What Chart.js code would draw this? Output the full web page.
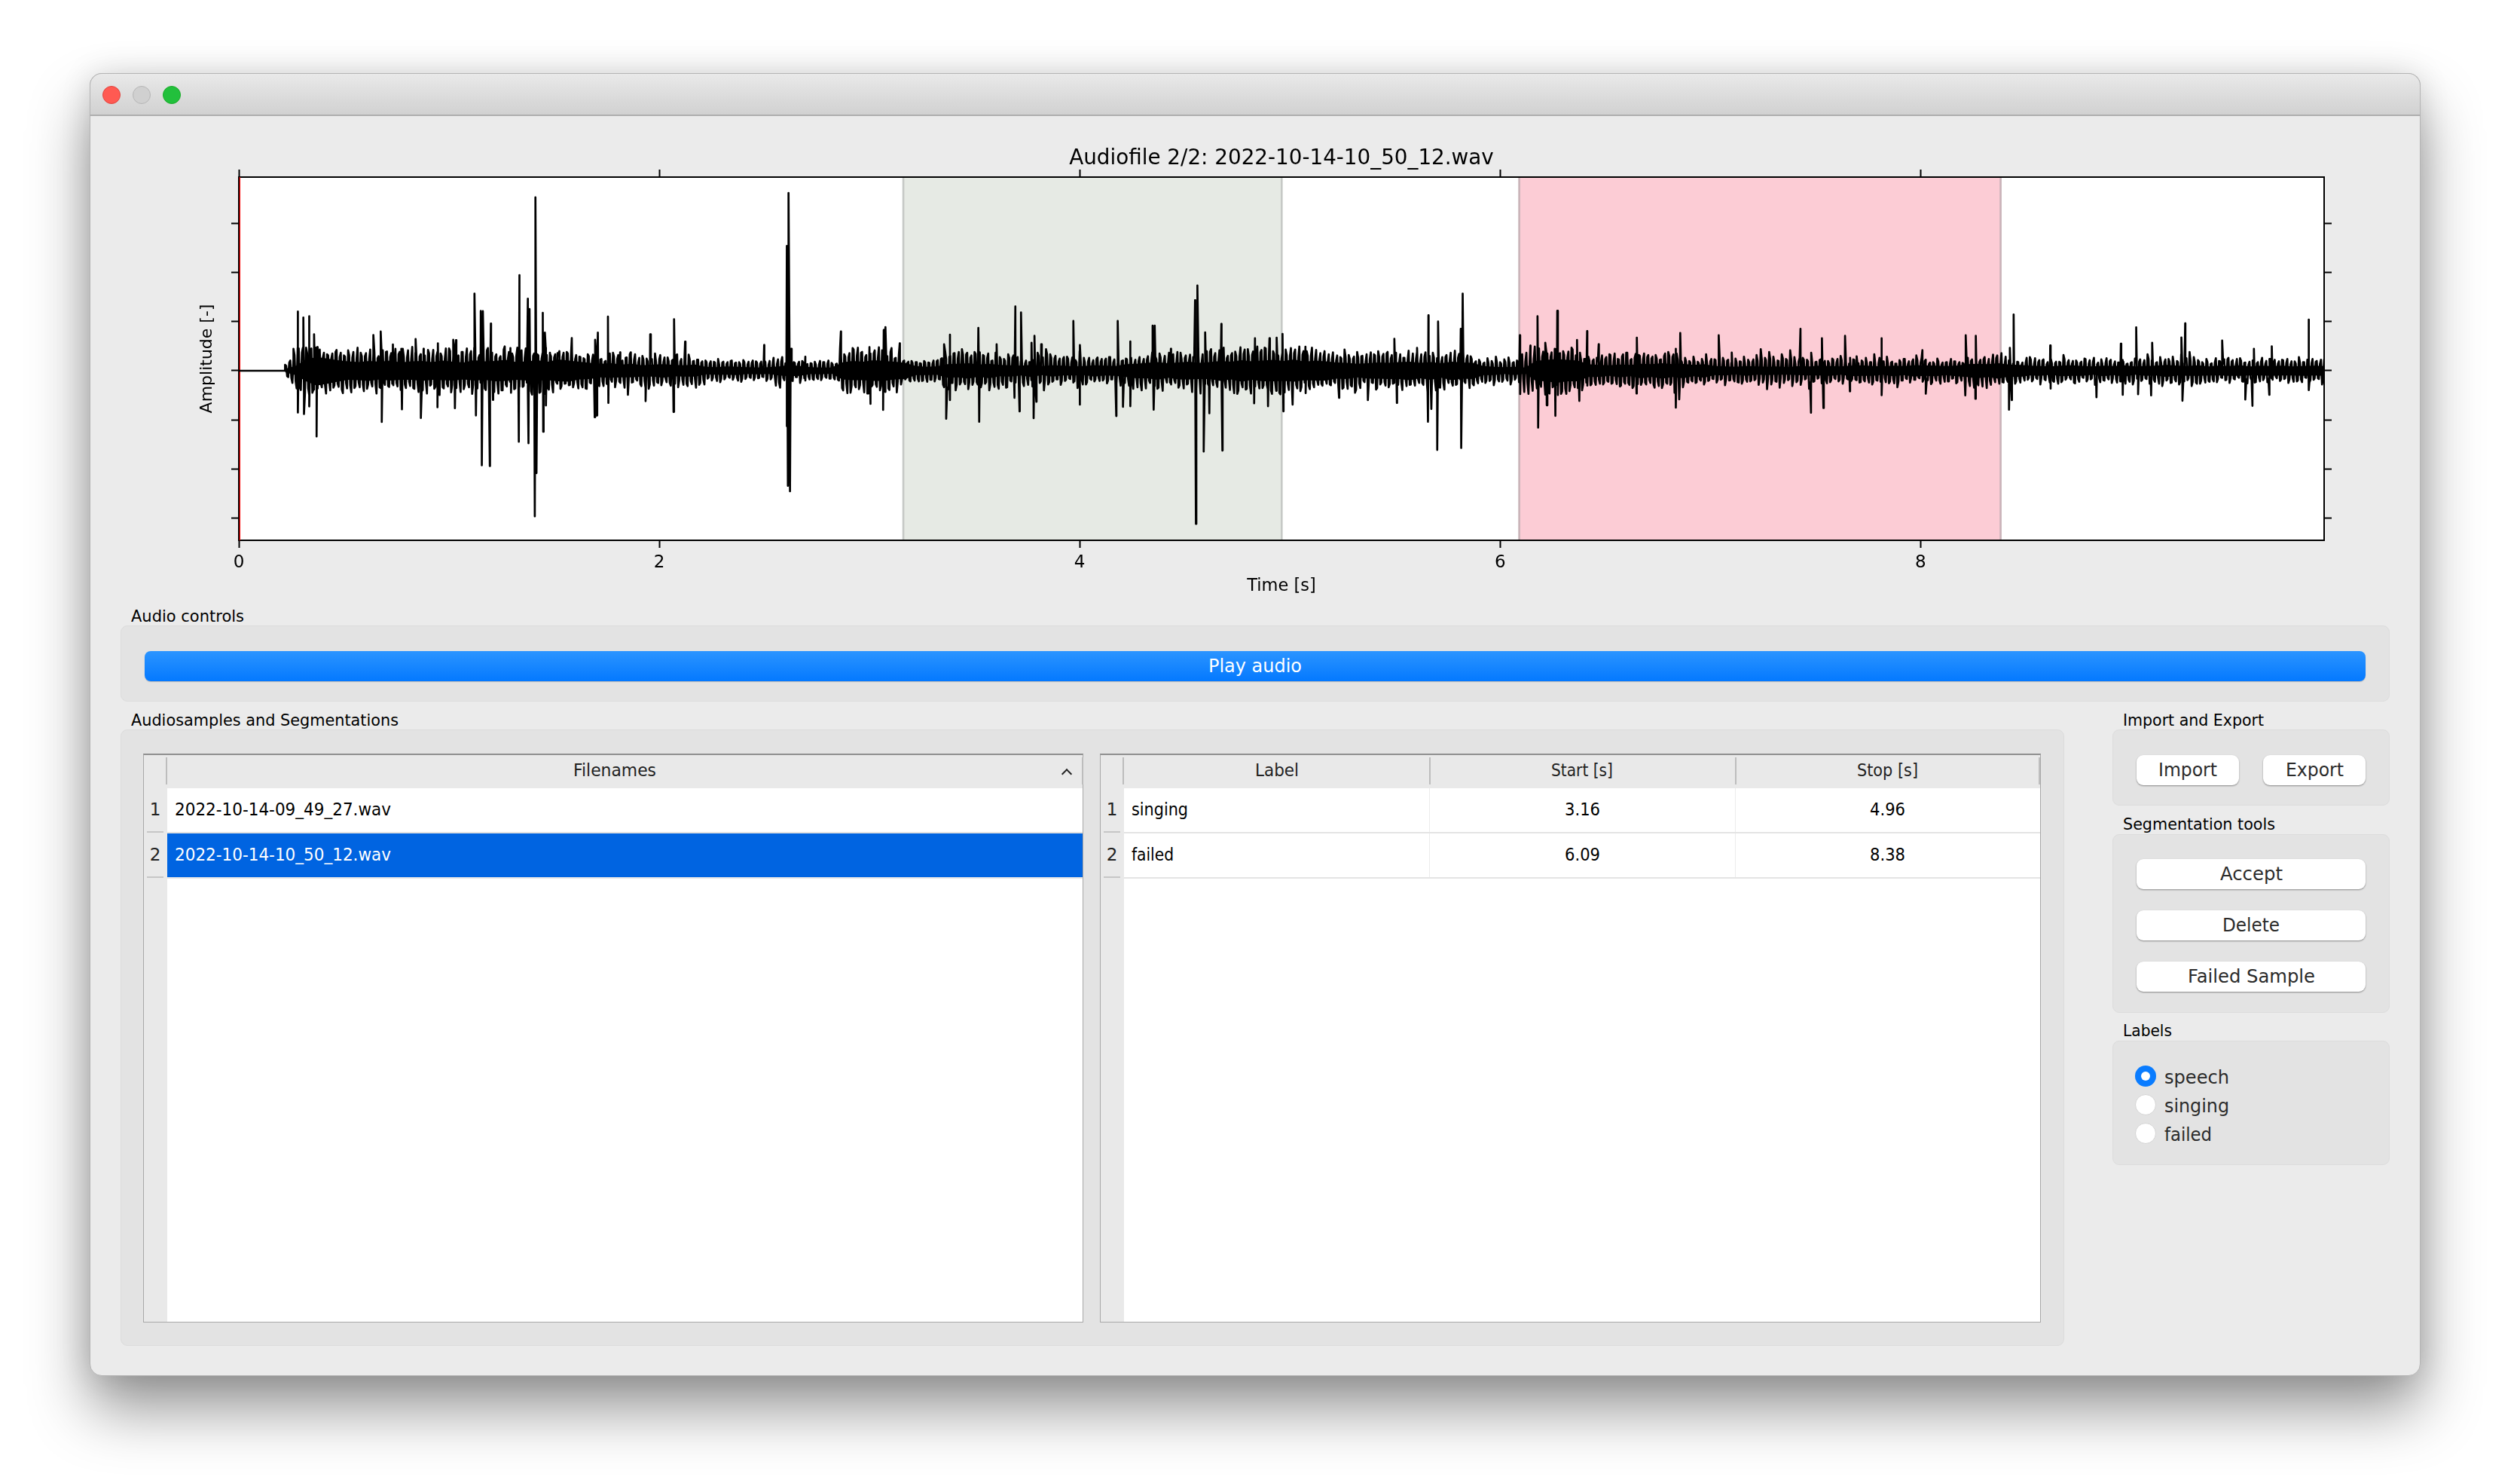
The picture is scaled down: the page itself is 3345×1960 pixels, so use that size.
<!DOCTYPE html>
<html><head><meta charset="utf-8">
<script src="https://cdn.jsdelivr.net/npm/chart.js@4"></script>
<style>
html,body{margin:0;padding:0;background:#fff;width:3345px;height:1960px;overflow:hidden;font-family:"DejaVu Sans",sans-serif}
.b{position:absolute;box-sizing:border-box}
.t{position:absolute;white-space:pre;line-height:1;color:#000;transform-origin:0 50%}
#win{left:119px;top:97px;width:3094px;height:1729px;background:#ebebeb;border-radius:16px;border:1px solid #b4b4b4;box-shadow:0 44px 80px rgba(0,0,0,.42),0 0 40px rgba(0,0,0,.12)}
#bar{left:119px;top:97px;width:3094px;height:57px;border-radius:16px 16px 0 0;background:linear-gradient(#e9e9e9,#d1d1d1);border:1px solid #b4b4b4;border-bottom:2px solid #aeaeae}
.panel{background:#e3e3e3;border:1px solid #dcdcdc;border-radius:9px}
.btn{background:#fff;border-radius:9px;box-shadow:0 1px 2px rgba(0,0,0,.4)}
.tbl{background:#e9e9e9;border:1px solid #a8a8a8;border-top:2px solid #8f8f8f}
canvas{position:absolute;left:200px;top:180px}
</style></head><body>
<div class="b" id="win"></div><div class="b" id="bar"></div>
<canvas id="c" width="3002" height="612" style="width:3002px;height:612px"></canvas>
<script>
// ---- chart values ----
const chartTitle = "Audiofile 2/2: 2022-10-14-10_50_12.wav";
const xAxisTitle = "Time [s]";
const yAxisTitle = "Amplitude [-]";
const xTickStep = 2, xMaxSeconds = 9.92;
const yTickStep = 250, yMin = -865, yMax = 988;
const cursorTime = [0.005];
const leadTimes = [0, 0.22];
const leadValues = [0, 0];
const bandStart = 0.22, bandStep = 0.05;
const bandUp = [
10,24,58,70,62,54,48,44,50,46,52,42,48,50,44,52,46,42,54,48,
50,56,44,48,54,46,58,52,46,40,36,38,32,36,28,32,34,30,28,32,
20,18,22,20,18,16,18,22,30,24,18,16,16,42,50,46,54,50,46,40,
24,20,22,34,36,38,32,36,30,28,26,30,24,28,26,22,24,28,26,24,
34,36,40,44,38,42,46,40,44,50,46,54,48,52,56,50,58,46,52,48,
42,40,36,38,42,40,44,46,40,44,38,46,42,40,24,20,18,20,16,50,
56,60,56,52,34,30,28,32,30,36,34,38,34,36,30,34,24,22,20,24,
22,20,22,18,24,22,26,24,22,26,28,24,22,26,24,28,28,26,24,26,
34,36,34,38,32,30,26,24,22,26,28,24,22,26,24,28,22,24,26,30,
26,24,28,22,26,24,28,22,26,24,26,22,24,26,24
];
const bandDown = [
8,22,54,76,66,56,46,48,52,44,50,46,46,52,46,48,50,44,50,46,
54,52,46,50,50,48,54,56,44,42,34,36,34,34,30,30,36,28,30,30,
18,20,20,22,16,18,16,24,28,26,16,18,14,44,48,48,52,52,44,42,
22,22,20,36,34,40,30,38,28,30,24,32,22,30,24,24,22,30,24,26,
32,38,38,46,36,44,44,42,42,52,44,56,46,54,54,52,56,48,50,50,
40,42,34,40,40,42,42,48,38,46,36,48,40,42,22,22,16,22,14,52,
54,62,54,54,32,32,26,34,28,38,32,40,32,38,28,36,22,24,18,26,
20,22,20,20,22,24,24,26,20,28,26,26,20,28,22,30,26,28,22,28,
32,38,32,40,30,32,24,26,20,28,26,26,20,28,22,30,20,26,24,32,
24,26,26,24,24,26,26,24,24,26,24,24,26,24,26
];
const coreStart = 0.22, coreStep = 0.02;
const coreUp = [
30,42,58,116,92,118,104,92,74,68,84,62,96,70,78,104,66,60,92,74,58,88,64,72,96,
70,56,84,112,66,58,92,72,66,106,60,74,88,62,114,78,58,96,70,84,118,66,72,104,90,
72,64,108,60,88,74,96,66,112,76,84,60,118,92,68,86,70,96,76,58,72,64,84,50,62,
58,46,72,92,60,48,66,84,54,42,76,62,50,88,58,44,68,52,78,46,60,82,48,56,40,
52,36,46,60,42,34,50,38,44,54,32,40,48,36,52,30,42,34,46,38,64,44,34,50,30,
38,46,32,44,36,40,34,112,84,68,116,76,92,70,118,88,64,104,72,96,62,84,48,40,50,
44,38,50,42,36,48,60,100,72,88,62,110,84,66,96,58,80,64,50,92,70,60,84,66,58,
48,36,44,54,92,70,110,84,62,46,58,72,40,54,100,66,48,38,60,44,52,70,42,36,50,
62,40,34,48,38,56,44,72,88,46,36,60,44,92,64,50,70,44,38,58,96,72,48,40,64,
78,98,70,86,110,80,62,94,118,72,100,84,60,108,74,90,66,82,100,76,60,54,72,46,58,
52,70,108,80,60,96,74,46,58,84,100,72,88,62,50,44,66,54,38,60,46,72,58,92,64,
44,70,52,38,66,48,60,74,42,56,36,64,50,72,44,58,68,40,52,62,46,38,60,48,70,
96,70,112,84,100,66,118,78,92,60,72,50,66,44,58,84,48,60,72,92,54,66,80,58,70,
62,80,56,74,96,70,88,54,66,50,72,46,60,84,48,58,44,66,52,40,62,48,72,56,44,
80,110,66,96,72,52,84,60,104,70,48,66,56,92,44,54,38,50,62,42,76,46,36,58,40,
52,66,44,84,38,48,72,42,36,54,60,34,46,78,40,50,34,44,62,30,42,36,48,32,40,
36,50,30,44,58,34,42,64,38,30,52,36,46,28,40,70,34,44,52,32,60,38,46,80,42,
34,52,40,62,36,44,32,58,38,48,30,42,54,34,40,62,46,36,84,52,40,70,44,60,72,
50,84,62,96,70,54,44,60,34,42,50,36,58,46,32,64,40,30,52,38,46,34,60,42,36,
56,40,32,48,70,44,56,38,46,34,60,40,52,78,50,36,62,44,34,56
];
const coreDown = [
28,36,52,84,108,90,112,76,64,72,58,86,66,96,62,74,88,58,70,92,60,68,84,56,78,
66,62,98,70,54,88,62,106,60,76,92,58,84,66,110,72,56,94,66,118,74,60,90,108,70,
64,100,70,56,94,66,82,60,104,72,112,64,88,70,58,92,66,74,84,56,68,90,60,50,70,
54,66,44,84,56,46,78,60,42,68,52,92,48,58,74,40,62,50,84,44,66,52,42,72,46,
40,50,34,58,44,30,46,36,56,42,32,48,38,30,52,44,34,60,36,42,50,32,62,38,30,
42,34,48,30,40,36,46,88,66,112,72,94,60,116,80,68,100,74,90,62,110,70,44,50,38,
40,52,36,46,54,42,70,88,62,100,70,56,94,72,58,84,66,100,60,72,54,86,50,66,46,
60,40,48,88,62,100,70,56,44,72,52,38,60,88,46,70,40,54,36,50,64,44,58,34,48,
40,56,36,64,42,50,66,92,54,40,60,46,86,50,70,42,58,38,84,66,48,60,36,52,44,
70,118,64,96,76,108,60,88,72,100,58,112,80,66,94,72,104,60,76,64,50,66,44,70,54,
66,92,58,74,112,64,50,78,60,96,70,56,84,66,44,58,40,72,50,44,62,38,66,52,84,
62,42,58,72,44,54,36,66,48,40,62,52,74,44,56,38,70,46,58,42,64,50,36,54,44,
110,84,72,118,90,104,66,88,100,60,74,54,44,70,52,66,46,80,58,62,88,50,72,60,46,
70,54,88,60,72,112,66,84,56,48,62,44,70,52,40,60,46,74,50,42,58,66,44,54,48,
72,60,94,70,54,86,62,48,78,58,72,44,92,56,40,64,48,58,36,54,66,40,52,44,60,
46,38,70,48,56,36,64,42,84,50,38,60,46,34,56,42,68,36,48,30,54,40,64,34,44,
52,36,62,42,30,50,38,32,58,44,36,66,40,30,46,54,36,70,44,30,52,40,58,46,34,
60,42,32,54,44,72,38,48,36,62,42,54,34,46,70,40,52,38,66,46,36,78,50,62,44,
70,56,48,78,60,66,36,52,44,58,34,48,62,40,30,54,44,36,60,34,48,58,38,30,52,
42,62,36,54,44,34,60,46,38,70,42,32,66,50,36,46,34,58,40,48
];
const fineStart = 0.225, fineStep = 0.01;
const fineAmps = [
26,32,52,62,80,90,114,98,118,108,90,124,114,96,118,90,108,84,92,116,78,100,88,74,106,82,92,114,72,90,80,110,96,78,118,84,74,104,90,70,108,80,96,116,74,88,104,72,98,82,
90,74,112,80,96,118,72,88,104,78,122,92,74,108,84,98,78,116,90,70,106,82,96,124,74,90,114,80,100,72,118,88,78,108,96,74,114,84,100,70,122,90,80,112,74,98,116,82,92,108,
84,116,74,100,124,80,96,112,70,90,118,82,104,78,114,92,72,122,88,98,78,108,90,118,80,96,74,110,84,66,100,78,92,64,88,72,96,62,80,90,70,84,58,92,74,64,82,98,66,78,
60,78,50,70,88,56,72,48,80,62,52,86,68,44,76,58,84,50,66,78,56,88,48,70,60,76,44,62,80,52,68,58,48,76,56,66,84,50,60,72,44,78,58,68,50,86,56,62,48,70,
44,34,48,36,42,52,32,40,46,34,44,36,52,32,42,50,34,40,44,32,46,36,52,34,42,36,46,32,44,40,50,34,42,76,58,86,70,48,36,44,34,52,40,32,46,36,42,50,34,44,
36,46,32,42,50,34,44,36,52,40,32,44,36,50,80,100,72,114,90,78,108,84,118,74,96,110,80,116,88,72,104,82,120,78,92,108,74,98,116,80,66,50,56,42,52,36,46,54,40,50,
44,54,36,50,42,56,40,46,52,36,54,44,64,84,60,94,76,62,90,70,96,58,82,68,92,60,78,54,86,70,94,62,76,58,88,68,52,82,62,92,58,72,50,84,66,54,78,60,70,52,
62,78,52,72,44,80,60,50,76,54,68,46,84,58,66,50,76,44,62,52,70,46,60,42,68,54,44,62,50,70,42,58,66,46,54,44,68,52,60,42,62,50,70,44,58,66,46,76,52,62,
58,76,66,92,56,84,70,100,60,90,74,62,94,78,58,86,68,102,76,60,92,70,84,62,96,74,58,90,78,66,82,108,70,92,76,116,84,68,100,78,110,74,90,82,104,70,118,86,76,98,
90,114,76,100,120,84,108,92,72,116,98,80,124,90,106,74,114,94,82,118,86,102,76,120,92,110,80,98,116,74,108,90,124,82,100,114,76,94,118,84,106,72,90,76,100,66,84,74,94,62,
78,94,62,86,70,92,60,80,72,96,66,88,76,58,84,68,94,62,78,88,70,60,86,76,96,68,80,62,92,72,84,98,66,78,102,70,88,76,96,62,84,72,94,108,76,88,68,100,78,86,
70,96,80,62,92,76,102,68,86,72,94,62,78,88,60,74,48,64,44,56,42,50,38,46,36,48,42,54,36,46,44,50,40,48,44,36,46,54,84,108,92,118,80,102,124,90,114,82,98,122,
88,116,94,76,110,124,90,106,80,118,98,74,108,84,62,78,56,70,60,76,52,68,58,72,50,66,78,60,70,56,80,62,88,68,58,76,84,66,92,72,60,78,86,68,76,58,88,70,80,62,
72,86,62,78,58,70,88,66,76,60,84,68,56,72,44,56,48,60,42,54,46,58,38,50,44,56,36,48,60,42,54,46,58,40,50,44,56,48,36,54,42,60,46,50,38,56,44,48,58,42,
50,38,58,44,54,36,60,46,42,56,50,36,64,44,54,42,58,46,36,50,66,44,56,40,48,60,42,54,46,36,58,44,50,64,38,48,56,42,60,46,54,36,50,44,66,42,56,48,38,58,
46,54,38,60,44,56,36,50,66,42,48,58,38,54,46,64,36,56,44,50,60,42,48,36,58,46,54,38,64,44,56,48,42,60,36,50,46,66,42,56,44,54,60,38,48,58,44,50,36,56,
66,78,58,86,64,74,56,80,70,88,60,72,82,58,78,66,90,60,72,56,46,58,38,54,44,60,42,50,66,36,56,46,64,42,54,36,58,48,44,60,38,56,46,66,42,50,58,36,54,44,
50,64,42,56,46,36,60,44,54,38,66,48,42,58,36,50,64,44,56,38,48,60,42,54,46,66,36,56,44,50,64,38,58,46,54,42,60,36,48,56,44,66,38,50,58,42,46,60,36,54,
44,58,38,54,64,36,48,56,42,66,46,50,36,60,44,56,38,54,64,42,48,36,58,46,66,38,54,44,60,36,50,56,42,64,46,48,38,58,44,54,66,36,50,42,60,46,56,38,48,44,
54,38,60,44,48,56,36,50,42,58,44,36,54,46,60,38,50,42,56,44
];
const spikeUpTimes = [.26,.28,.307,.335,.358,.373,.64,.675,.733,.773,.841,.879,.947,1.02,1.033,1.121,1.151,1.161,1.199,1.292,1.335,1.375,1.383,1.411,1.446,1.456,1.481,1.516,1.584,1.695,1.708,1.756,1.814,1.864,1.957,2.071,2.123,2.499,2.544,2.607,2.615,2.627,2.695,2.864,3.0,3.068,3.076,3.144,
3.355,3.383,3.518,3.605,3.694,3.721,3.771,3.785,3.817,3.97,4.002,4.181,4.24,4.347,4.357,4.434,4.549,4.56,4.597,4.674,4.834,4.903,4.937,4.965,5.074,5.497,5.605,5.659,5.705,5.813,5.822,6.094,6.144,6.178,6.215,6.272,6.366,6.414,6.469,6.651,
6.836,6.857,7.04,7.102,7.429,7.531,7.641,7.696,7.815,8.009,8.215,8.263,8.425,8.443,8.617,8.953,9.026,9.102,9.241,9.259,9.435,9.586,9.671,9.847];
const spikeUpAmps = [112,302,272,278,186,121,182,200,134,112,162,112,140,158,156,394,305,304,241,116,488,368,315,885,296,195,85,90,167,158,195,276,94,94,186,263,149,131,66,637,907,112,72,200,121,208,223,140,
135,184,219,135,328,298,143,178,135,254,131,254,150,230,230,112,360,435,196,239,166,166,169,188,123,163,117,283,251,214,394,181,128,278,143,306,157,202,135,169,
112,193,181,93,214,166,178,74,166,105,181,178,117,287,129,138,222,143,170,242,154,112,125,261];
const spikeDownTimes = [.282,.31,.335,.37,.68,.776,.866,.945,1.028,1.128,1.156,1.194,1.209,1.332,1.378,1.408,1.416,1.448,1.461,1.693,1.703,1.758,1.851,1.935,2.068,2.607,2.612,2.622,3.005,3.065,
3.365,3.383,3.522,3.69,3.714,3.781,3.794,4.0,4.174,4.206,4.242,4.352,4.553,4.59,4.617,4.679,4.83,4.896,4.969,5.013,5.234,5.371,5.509,5.657,5.673,5.701,5.815,6.096,6.181,6.222,6.263,6.377,6.649,
6.836,6.852,7.479,7.538,7.664,7.815,8.025,8.213,8.261,8.421,8.434,8.619,8.837,8.962,9.035,9.097,9.246,9.545,9.579,9.659,9.847];
const spikeDownAmps = [213,221,182,335,261,197,241,186,191,228,482,486,149,362,370,743,522,311,177,237,228,164,123,155,210,283,587,615,169,200,
245,150,260,138,207,242,158,173,231,184,181,199,781,412,217,407,166,181,207,173,138,150,164,260,195,404,394,119,290,176,230,154,116,
188,146,214,190,105,125,117,126,143,199,150,91,135,123,120,126,153,147,179,123,99];
const segmentLabels = ["singing","failed"];
const segmentStarts = [3.16,6.09];
const segmentStops = [4.96,8.38];
const filenames = ["2022-10-14-09_49_27.wav","2022-10-14-10_50_12.wav"];
const tableHeaders = ["Label","Start [s]","Stop [s]"];
const labelChoices = ["speech","singing","failed"];

// ---- assemble the trace from the arrays ----
const trace = [];
leadTimes.forEach((t,i)=>trace.push({x:t,y:leadValues[i]}));
coreUp.forEach((v,i)=>{
  trace.push({x:coreStart+i*coreStep,y:v});
  trace.push({x:coreStart+(i+.5)*coreStep,y:-coreDown[i]});
});
fineAmps.forEach((v,i)=>trace.push({x:fineStart+i*fineStep,y:i%2?-v:v}));
spikeUpTimes.forEach((t,i)=>trace.push({x:t,y:spikeUpAmps[i]}));
spikeDownTimes.forEach((t,i)=>trace.push({x:t,y:-spikeDownAmps[i]}));
trace.sort((a,b)=>a.x-b.x);
const bandUpper = bandUp.map((v,i)=>({x:bandStart+i*bandStep,y:v}));
const bandLower = bandDown.map((v,i)=>({x:bandStart+i*bandStep,y:-v}));

const SANS='"DejaVu Sans"';
const spanStyles=[{fill:'#e6eae4',edge:'#c6c9c6'},{fill:'#fcccd5',edge:'#c9b3b8'}];
const spans={id:'spans',
 beforeDraw(ch){const a=ch.chartArea,c=ch.ctx;c.save();c.fillStyle='#fff';c.fillRect(a.left,a.top,a.width,a.height);c.restore();},
 beforeDatasetsDraw(ch){const a=ch.chartArea,c=ch.ctx,x=ch.scales.x;c.save();
  segmentStarts.forEach((s,i)=>{const l=x.getPixelForValue(s),r=x.getPixelForValue(segmentStops[i]);
   c.fillStyle=spanStyles[i].fill;c.fillRect(l,a.top+1,r-l,a.height-2);
   c.fillStyle=spanStyles[i].edge;c.fillRect(l-1,a.top+1,2.6,a.height-2);c.fillRect(r-1,a.top+1,2.6,a.height-2);});
  c.restore();}};
const frameGrid={drawOnChartArea:false,drawTicks:true,tickLength:10,tickColor:'#000',tickWidth:2};
const frameBorder={display:true,color:'#000',width:2};
new Chart(document.getElementById('c'),{
 type:'line',
 data:{datasets:[
  {label:'waveform',data:trace,borderColor:'#000',borderWidth:2.7,pointRadius:0,tension:0,borderJoinStyle:'round',fill:false},
  {label:'core upper',data:bandUpper,borderWidth:0,borderColor:'#000',backgroundColor:'#000',pointRadius:0,tension:0,fill:'+1'},
  {label:'core lower',data:bandLower,borderWidth:0,borderColor:'#000',pointRadius:0,tension:0,fill:false},
  {label:'cursor',data:cursorTime.flatMap(t=>[{x:t,y:yMin},{x:t,y:yMax}]),borderColor:'#ff0000',borderWidth:1.2,pointRadius:0,fill:false}
 ]},
 plugins:[spans],
 options:{responsive:false,animation:false,devicePixelRatio:1,
  layout:{padding:0},
  plugins:{legend:{display:false},tooltip:{enabled:false},
   title:{display:true,text:chartTitle,color:'#000',font:{family:SANS,size:27.8,weight:'normal',lineHeight:1},padding:{top:16.8,bottom:0.4}}},
  scales:{
   x:{type:'linear',position:'bottom',min:0,max:xMaxSeconds,
    ticks:{stepSize:xTickStep,includeBounds:false,autoSkip:false,maxRotation:0,color:'#000',font:{family:SANS,size:23},padding:6},
    grid:frameGrid,border:frameBorder,
    title:{display:true,text:xAxisTitle,color:'#000',font:{family:SANS,size:22.5},padding:{top:0,bottom:0}},
    afterFit(s){s.height=75;}},
   x2:{type:'linear',position:'top',axis:'x',min:0,max:xMaxSeconds,
    ticks:{display:false,stepSize:xTickStep,includeBounds:false,autoSkip:false},grid:frameGrid,border:frameBorder,
    afterFit(s){s.height=10;}},
   y:{type:'linear',position:'left',min:yMin,max:yMax,
    ticks:{display:false,stepSize:yTickStep,includeBounds:false,autoSkip:false},grid:frameGrid,border:frameBorder,
    title:{display:true,text:yAxisTitle,color:'#000',font:{family:SANS,size:22},padding:{top:62,bottom:0}},
    afterFit(s){s.width=117;}},
   y2:{type:'linear',position:'right',axis:'y',min:yMin,max:yMax,
    ticks:{display:false,stepSize:yTickStep,includeBounds:false,autoSkip:false},grid:frameGrid,border:frameBorder,
    afterFit(s){s.width=117;}}
  }}
});

// ---- window furniture (real text, plain boxes) ----
function box(x,y,r,b,cls,css){const d=document.createElement('div');d.className='b '+(cls||'');
 d.style.cssText=`left:${x}px;top:${y}px;width:${r-x}px;height:${b-y}px;`+(css||'');document.body.appendChild(d);return d;}
function text(s,o){const d=document.createElement('div');d.className='t';d.textContent=s;
 d.style.fontSize=o.size+'px';if(o.color)d.style.color=o.color;document.body.appendChild(d);
 const w=d.getBoundingClientRect().width,h=d.getBoundingClientRect().height;
 const k=o.width?o.width/w:1;const tw=o.width||w;
 const x=o.cx!==undefined?o.cx-tw/2:o.x;
 d.style.left=x+'px';d.style.top=(o.cy-h/2)+'px';d.style.transform=`scaleX(${k})`;return d;}
[[148,'#ff5a52','#e0443e'],[188,'#d0d0d0','#b6b6b6'],[228,'#22c03c','#1aab29']].forEach(([x,f,e])=>{
 box(x-12,114,x+12,138,'',`border-radius:50%;background:${f};border:1px solid ${e}`);});

text('Audio controls',{x:174,cy:818.5,size:21,width:150});
box(160,830,3172,931,'panel');
box(192,864,3140,904,'',"border-radius:8px;background:linear-gradient(#2b94ff,#0479ff);box-shadow:0 1px 1px rgba(0,0,0,.2)");
text('Play audio',{cx:1666,cy:883,size:25,width:124,color:'#fff'});
text('Audiosamples and Segmentations',{x:174,cy:956.5,size:21,width:355});
box(160,968,2740,1786,'panel');

// left table
box(190,1000,1438,1755,'tbl');
box(222,1046,1437,1754,'','background:#fff');
box(220,1005,222,1041,'','background:#bdbdbd');box(1436,1005,1438,1041,'','background:#bdbdbd');
text('Filenames',{cx:816,cy:1022,size:23,width:110,color:'#222'});
box(1411,1022,1421,1032,'','border-top:2px solid #222;border-left:2px solid #222;transform:rotate(45deg)');
box(222,1104,1437,1106,'','background:#e2e2e2');
box(222,1106,1437,1164,'','background:#0064e1');
box(222,1164,1437,1166,'','background:#e6e6e6');
filenames.forEach((f,i)=>{const y=1074+i*60;
 text(String(i+1),{cx:206,cy:y,size:23,color:'#222'});
 box(195,1103+i*60,217,1105+i*60,'','background:#c6c6c6');
 text(f,{x:232,cy:y,size:23,width:287,color:i==1?'#fff':'#000'});});

// right table
box(1460,1000,2709,1755,'tbl');
box(1492,1046,2708,1754,'','background:#fff');
[1490,1897,2303,2706].forEach(x=>box(x,1005,x+2,1041,'','background:#bdbdbd'));
[[1695,58],[2100,82],[2505,81]].forEach(([cx,w],i)=>text(tableHeaders[i],{cx,cy:1022,size:23,width:w,color:'#222'}));
[1897,2303].forEach(x=>box(x,1046,x+1,1164,'','background:#ececec'));
[1104,1164].forEach(y=>box(1492,y,2708,y+2,'','background:#e4e4e4'));
segmentLabels.forEach((s,i)=>{const y=1074+i*60;
 text(String(i+1),{cx:1476,cy:y,size:23,color:'#222'});
 box(1465,1103+i*60,1487,1105+i*60,'','background:#c6c6c6');
 text(s,{x:1502,cy:y,size:23,width:i==0?75:56});
 text(segmentStarts[i].toFixed(2),{cx:2100,cy:y,size:23,width:47});
 text(segmentStops[i].toFixed(2),{cx:2505,cy:y,size:23,width:47});});

// side panels
text('Import and Export',{x:2818,cy:956,size:21,width:187});
box(2804,968,3172,1069,'panel');
box(2836,1002,2972,1042,'btn');box(3004,1002,3140,1042,'btn');
text('Import',{cx:2904,cy:1022,size:24,width:78,color:'#2b2b2b'});
text('Export',{cx:3072,cy:1022,size:24,width:77,color:'#2b2b2b'});
text('Segmentation tools',{x:2818,cy:1094,size:21,width:202});
box(2804,1107,3172,1344,'panel');
[['Accept',1140,83],['Delete',1208,76],['Failed Sample',1276,169]].forEach(([s,y,w])=>{
 box(2836,y,3140,y+40,'btn');text(s,{cx:2988,cy:y+20,size:24,width:w,color:'#2b2b2b'});});
text('Labels',{x:2818,cy:1368,size:21,width:65});
box(2804,1381,3172,1546,'panel');
labelChoices.forEach((s,i)=>{const y=[1428,1466,1504][i];
 if(i==0){box(2834,y-14,2862,y+14,'','border-radius:50%;background:#0a7cff');box(2842,y-6,2854,y+6,'','border-radius:50%;background:#fff');}
 else box(2834,y-14,2862,y+14,'','border-radius:50%;background:#fff;border:1px solid #d4d4d4');
 text(s,{x:2873,cy:y+2,size:24,width:[86,86,63][i],color:'#2b2b2b'});});
</script>
</body></html>
